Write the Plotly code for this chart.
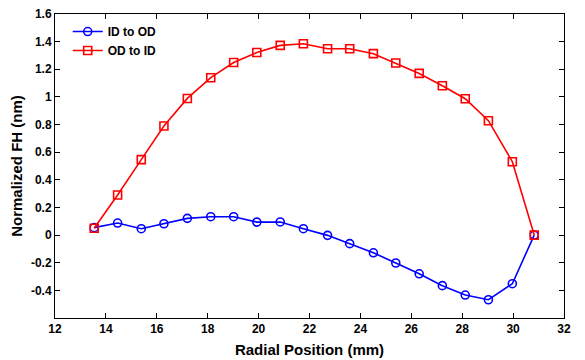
import plotly.graph_objects as go

radial_mm = [13.54, 14.46, 15.39, 16.28, 17.20, 18.12, 19.02, 19.93, 20.85, 21.76,
             22.71, 23.58, 24.51, 25.39, 26.31, 27.22, 28.12, 29.03, 29.97, 30.83]
id_to_od = [0.054, 0.087, 0.046, 0.082, 0.121, 0.133, 0.133, 0.094, 0.095, 0.046,
            -0.002, -0.062, -0.128, -0.202, -0.280, -0.366, -0.434, -0.468, -0.352, 0.0]
od_to_id = [0.050, 0.290, 0.546, 0.789, 0.989, 1.139, 1.249, 1.321, 1.373, 1.385,
            1.349, 1.349, 1.313, 1.245, 1.170, 1.081, 0.987, 0.828, 0.531, 0.0]

x_ticks = [12, 14, 16, 18, 20, 22, 24, 26, 28, 30, 32]
y_ticks = [-0.4, -0.2, 0, 0.2, 0.4, 0.6, 0.8, 1.0, 1.2, 1.4, 1.6]
y_ticktext = ["-0.4", "-0.2", "0", "0.2", "0.4", "0.6", "0.8", "1", "1.2", "1.4", "1.6"]

font_family = "Liberation Sans, Arial, sans-serif"

fig = go.Figure()
fig.add_trace(go.Scatter(
    x=radial_mm, y=id_to_od, mode="lines+markers", name="ID to OD",
    line=dict(color="#0000FF", width=1.6),
    marker=dict(symbol="circle-open", size=8, color="#0000FF", line=dict(width=1.6)),
))
fig.add_trace(go.Scatter(
    x=radial_mm, y=od_to_id, mode="lines+markers", name="OD to ID",
    line=dict(color="#FF0000", width=1.6),
    marker=dict(symbol="square-open", size=8, color="#FF0000", line=dict(width=1.6)),
))

axis_common = dict(
    showgrid=False, zeroline=False, showline=True, linecolor="black", linewidth=1,
    mirror="ticks", ticks="inside", ticklen=5, tickcolor="black", tickwidth=1,
    automargin=False, ticklabeloverflow="allow",
    tickfont=dict(family=font_family, size=12, color="black", weight="bold"),
)

# The page body has an 8px default margin, so the figure is sized to fit the window.
fig.update_layout(
    width=577, height=352,
    margin=dict(l=47, r=21, t=6, b=42),
    paper_bgcolor="white", plot_bgcolor="white",
    font=dict(family=font_family, color="black"),
    showlegend=True,
    legend=dict(x=0.025, y=0.99, xanchor="left", yanchor="top",
                bgcolor="rgba(255,255,255,0)", borderwidth=0,
                font=dict(family=font_family, size=12, color="black", weight="bold"),
                tracegroupgap=0),
    xaxis=dict(range=[12, 32], tickvals=x_ticks,
               title=dict(text="Radial Position (mm)", standoff=9,
                          font=dict(family=font_family, size=15, weight="bold")),
               **axis_common),
    yaxis=dict(range=[-0.6, 1.6], tickvals=y_ticks, ticktext=y_ticktext,
               title=dict(text="Normalized FH (nm)", standoff=6,
                          font=dict(family=font_family, size=15, weight="bold")),
               **axis_common),
)

fig.write_html("out.html")
